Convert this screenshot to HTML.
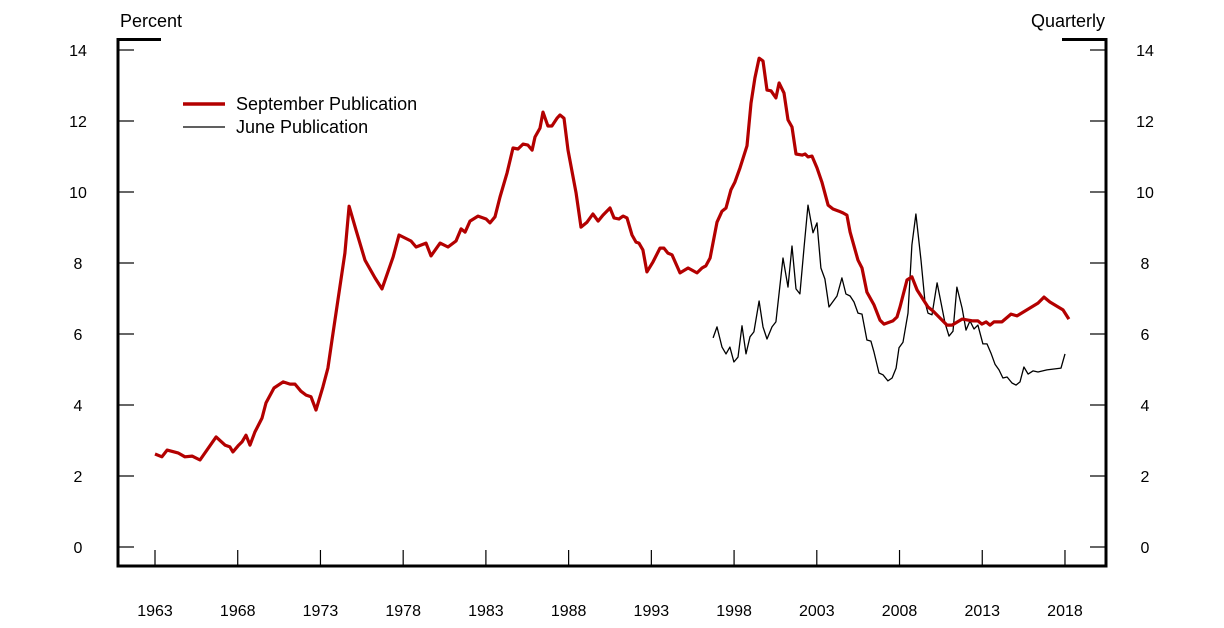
<!DOCTYPE html>
<html><head><meta charset="utf-8"><style>
body{margin:0;background:#fff;}
svg{display:block;font-family:"Liberation Sans",Arial,sans-serif;}
</style></head><body>
<svg id="chart" width="1224" height="628" viewBox="0 0 1224 628" xmlns="http://www.w3.org/2000/svg">
<g id="axes"></g>
<g id="series"></g>
<text x="120" y="27" font-size="18">Percent</text>
<text x="1105" y="27" font-size="18" text-anchor="end">Quarterly</text>
<g>
<line x1="183" y1="104" x2="225" y2="104" stroke="#b30000" stroke-width="3.5"/>
<text x="236" y="110" font-size="18">September Publication</text>
<line x1="183" y1="127" x2="225" y2="127" stroke="#000" stroke-width="1.3"/>
<text x="236" y="133" font-size="18">June Publication</text>
</g>
</svg>
<script>
const yTicks=[0,2,4,6,8,10,12,14];
const xTickYears=[1963,1968,1973,1978,1983,1988,1993,1998,2003,2008,2013,2018];
const sepYears=[1963.0,1963.42,1963.73,1964.39,1964.81,1965.24,1965.72,1966.69,1967.23,1967.53,1967.71,1968.02,1968.26,1968.5,1968.74,1969.04,1969.47,1969.71,1970.19,1970.74,1971.16,1971.46,1971.82,1972.13,1972.43,1972.73,1973.15,1973.45,1973.7,1974.48,1974.73,1975.15,1975.69,1976.3,1976.72,1977.39,1977.75,1978.47,1978.78,1979.38,1979.68,1980.23,1980.71,1981.19,1981.5,1981.74,1982.04,1982.52,1983.01,1983.25,1983.55,1983.85,1984.28,1984.64,1984.94,1985.24,1985.54,1985.79,1985.97,1986.27,1986.45,1986.75,1986.99,1987.3,1987.48,1987.72,1987.96,1988.45,1988.75,1989.11,1989.47,1989.78,1990.08,1990.5,1990.74,1991.04,1991.29,1991.53,1991.83,1992.07,1992.25,1992.49,1992.73,1993.1,1993.52,1993.76,1994.0,1994.25,1994.73,1995.22,1995.76,1996.06,1996.3,1996.55,1996.97,1997.27,1997.51,1997.81,1998.05,1998.36,1998.78,1999.02,1999.26,1999.51,1999.75,1999.99,2000.23,2000.53,2000.72,2001.02,2001.26,2001.5,2001.74,2002.11,2002.29,2002.47,2002.71,2003.01,2003.31,2003.68,2003.98,2004.34,2004.58,2004.82,2005.01,2005.49,2005.73,2006.03,2006.46,2006.82,2007.06,2007.6,2007.85,2008.03,2008.45,2008.75,2009.06,2009.72,2010.02,2010.87,2011.17,2011.78,2012.44,2012.74,2012.98,2013.23,2013.47,2013.71,2014.19,2014.74,2015.1,2016.37,2016.73,2017.09,2017.88,2018.24];
const sepValues=[2.62,2.54,2.73,2.65,2.54,2.56,2.45,3.1,2.87,2.82,2.68,2.85,2.96,3.15,2.87,3.24,3.63,4.06,4.48,4.65,4.59,4.59,4.39,4.28,4.23,3.86,4.51,5.04,5.83,8.28,9.6,8.93,8.08,7.58,7.27,8.17,8.79,8.62,8.45,8.56,8.2,8.56,8.45,8.62,8.96,8.87,9.18,9.32,9.24,9.13,9.3,9.86,10.54,11.24,11.21,11.35,11.32,11.18,11.55,11.8,12.25,11.86,11.86,12.08,12.17,12.08,11.18,9.97,9.01,9.15,9.38,9.18,9.35,9.55,9.27,9.24,9.32,9.27,8.79,8.59,8.56,8.37,7.75,8.03,8.42,8.42,8.28,8.23,7.72,7.86,7.72,7.86,7.92,8.14,9.15,9.46,9.55,10.06,10.28,10.68,11.3,12.5,13.21,13.77,13.69,12.87,12.85,12.65,13.07,12.79,12.03,11.83,11.07,11.04,11.07,10.99,11.01,10.68,10.28,9.63,9.52,9.46,9.41,9.35,8.87,8.08,7.86,7.18,6.82,6.39,6.28,6.37,6.48,6.76,7.52,7.61,7.24,6.76,6.65,6.25,6.25,6.42,6.37,6.37,6.28,6.34,6.25,6.34,6.34,6.56,6.51,6.87,7.04,6.9,6.68,6.42];
const junYears=[1996.73,1996.97,1997.27,1997.51,1997.75,1997.99,1998.24,1998.48,1998.72,1998.96,1999.2,1999.51,1999.75,1999.99,2000.29,2000.53,2000.96,2001.26,2001.5,2001.74,2001.98,2002.23,2002.47,2002.77,2003.01,2003.25,2003.49,2003.74,2004.22,2004.52,2004.76,2005.01,2005.25,2005.49,2005.73,2006.03,2006.27,2006.46,2006.76,2007.0,2007.3,2007.55,2007.79,2007.97,2008.21,2008.51,2008.75,2008.99,2009.3,2009.54,2009.72,2009.96,2010.27,2010.51,2010.75,2010.99,2011.23,2011.47,2011.78,2012.02,2012.26,2012.5,2012.74,2013.04,2013.29,2013.53,2013.77,2014.01,2014.25,2014.5,2014.8,2015.04,2015.28,2015.52,2015.77,2016.07,2016.37,2016.91,2017.76,2018.0];
const junValues=[5.89,6.2,5.63,5.44,5.63,5.21,5.35,6.23,5.44,5.92,6.06,6.93,6.2,5.86,6.2,6.34,8.14,7.32,8.48,7.27,7.13,8.45,9.63,8.85,9.13,7.86,7.55,6.76,7.07,7.58,7.13,7.07,6.9,6.59,6.56,5.83,5.8,5.49,4.9,4.85,4.68,4.76,5.04,5.61,5.77,6.59,8.51,9.38,8.08,6.9,6.59,6.54,7.44,6.87,6.31,5.94,6.08,7.32,6.73,6.11,6.37,6.14,6.25,5.72,5.72,5.46,5.15,4.99,4.76,4.79,4.62,4.56,4.65,5.07,4.87,4.96,4.93,4.99,5.04,5.44];

const NS='http://www.w3.org/2000/svg';
const L=118,R=1106,B=566;
function xs(yr){return 155+(yr-1963)*16.545;}
function ys(v){return 547-v*35.5;}
function mk(tag,attrs,parent){const e=document.createElementNS(NS,tag);for(const k in attrs)e.setAttribute(k,attrs[k]);parent.appendChild(e);return e;}
const ax=document.getElementById('axes');
let e;
e=mk('path',{d:`M${L+43},39.5H${L}V${B}H${R}V39.5H${R-44}`,fill:'none',stroke:'#000','stroke-width':3},ax);


yTicks.forEach(v=>{
  const y=ys(v);
  let t=mk('line',{x1:L,x2:L+16,y1:y,y2:y,stroke:'#000','stroke-width':1.2},ax);
  
  
  t=mk('line',{x1:R-16,x2:R,y1:y,y2:y,stroke:'#000','stroke-width':1.2},ax);
  
  
  let tx=mk('text',{x:78,y:y+6,'font-size':16,'text-anchor':'middle'},ax);tx.textContent=v;
  
  
  tx=mk('text',{x:1145,y:y+6,'font-size':16,'text-anchor':'middle'},ax);tx.textContent=v;
  
  
});
xTickYears.forEach(yr=>{
  const x=xs(yr);
  let t=mk('line',{x1:x,x2:x,y1:B,y2:B-16,stroke:'#000','stroke-width':1.2},ax);
  
  
  let tx=mk('text',{x:x,y:616,'font-size':16,'text-anchor':'middle'},ax);tx.textContent=yr;
  
  
});
const sg=document.getElementById('series');
function line(xa,va,color,w,name){
  const d=xa.map((yr,i)=>(i?'L':'M')+xs(yr).toFixed(1)+','+ys(va[i]).toFixed(1)).join('');
  const p=mk('path',{d:d,fill:'none',stroke:color,'stroke-width':w,'stroke-linejoin':'round'},sg);
  
  
}
line(junYears,junValues,'#000',1.3,'june-publication-line');
line(sepYears,sepValues,'#b30000',3.2,'september-publication-line');
</script>
</body></html>
